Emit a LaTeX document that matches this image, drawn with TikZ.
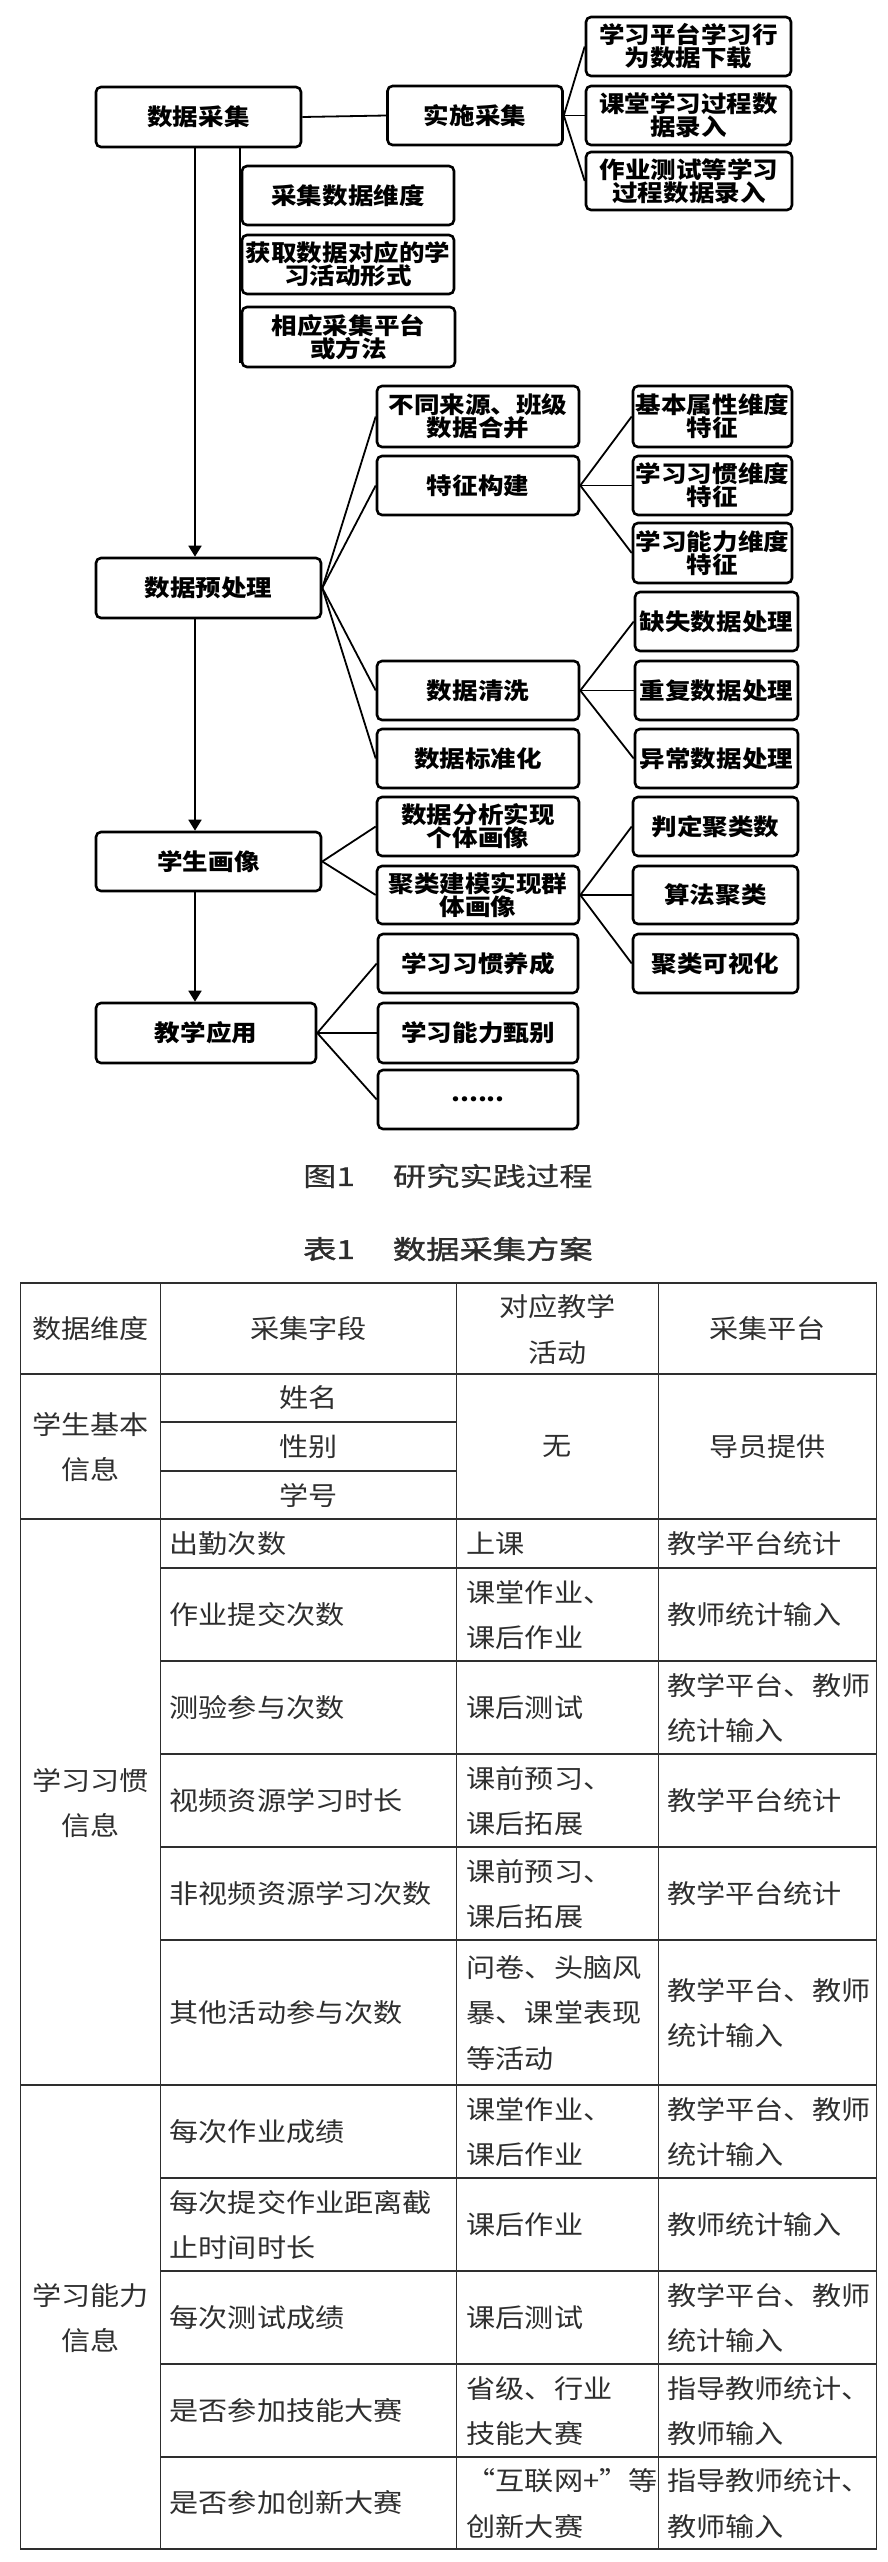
\documentclass[tikz,border=0pt]{standalone}
\usepackage{fontspec}
\usetikzlibrary{arrows.meta}
\newfontfamily\flowfont{Noto Sans CJK SC}[FakeStretch=1.11]
\newfontfamily\tabfont{Noto Sans CJK SC}[FakeStretch=1.12]
\newfontfamily\capfont{Noto Sans CJK SC}[FakeStretch=1.28,FakeBold=0.6]
\newfontfamily\capfontb{Noto Sans CJK SC}[FakeStretch=1.28,FakeBold=1.6]
\definecolor{tcol}{HTML}{2E2E2E}
\tikzset{
  fbox/.style={draw=black, line width=2.6pt, rounded corners=5pt, fill=white,
    inner sep=0pt, align=center, text=black,
    font=\flowfont\bfseries\fontsize{23}{23}\selectfont},
  conn/.style={line width=1.8pt, black},
  arr/.style={conn, -{Triangle[width=13pt,length=11pt]}},
  tline/.style={line width=1.5pt, tcol},
  tc/.style={inner sep=0pt, align=center, text=tcol,
    font=\tabfont\fontsize{26}{45.5}\selectfont},
  tl/.style={inner sep=0pt, align=left, anchor=west, text=tcol,
    font=\tabfont\fontsize{26}{45.5}\selectfont},
  capt/.style={inner sep=0pt, anchor=west, text=tcol,
    font=\capfont\fontsize{26}{26}\selectfont}
}
\begin{document}
\begin{tikzpicture}[x=1pt,y=-1pt]
\useasboundingbox (0,0) rectangle (888,2562);
\fill[white] (0,0) rectangle (888,2562);
\coordinate (ax) at (195,0);
\coordinate (bx) at (240,0);
% ---- flowchart ----
\node[fbox, minimum width=205pt, minimum height=60pt] (cj) at (198.5,117) {数据采集};
\node[fbox, minimum width=175pt, minimum height=59pt] (ss) at (475,115.5) {实施采集};
\node[fbox, minimum width=205pt, minimum height=59pt] (r1) at (688.5,46.5) {学习平台学习行\\为数据下载};
\node[fbox, minimum width=205pt, minimum height=59pt] (r2) at (688.5,115.5) {课堂学习过程数\\据录入};
\node[fbox, minimum width=206pt, minimum height=58pt] (r3) at (689,181) {作业测试等学习\\过程数据录入};
\node[fbox, minimum width=212pt, minimum height=59pt] (c1) at (348,195.5) {采集数据维度};
\node[fbox, minimum width=212pt, minimum height=59pt] (c2) at (348,264.5) {获取数据对应的学\\习活动形式};
\node[fbox, minimum width=213pt, minimum height=60pt] (c3) at (348.5,337) {相应采集平台\\或方法};

\node[fbox, minimum width=225pt, minimum height=60pt] (yc) at (208.5,588) {数据预处理};
\node[fbox, minimum width=202pt, minimum height=61pt] (p1) at (478,416.5) {不同来源、班级\\数据合并};
\node[fbox, minimum width=202pt, minimum height=59pt] (p2) at (478,485.5) {特征构建};
\node[fbox, minimum width=202pt, minimum height=59pt] (p3) at (478,690.5) {数据清洗};
\node[fbox, minimum width=202pt, minimum height=59pt] (p4) at (478,758.5) {数据标准化};
\node[fbox, minimum width=159pt, minimum height=61pt] (f1) at (712.5,416.5) {基本属性维度\\特征};
\node[fbox, minimum width=159pt, minimum height=59pt] (f2) at (712.5,485.5) {学习习惯维度\\特征};
\node[fbox, minimum width=159pt, minimum height=60pt] (f3) at (712.5,553) {学习能力维度\\特征};
\node[fbox, minimum width=163pt, minimum height=59pt] (q1) at (716.5,621.5) {缺失数据处理};
\node[fbox, minimum width=163pt, minimum height=59pt] (q2) at (716.5,690.5) {重复数据处理};
\node[fbox, minimum width=163pt, minimum height=59pt] (q3) at (716.5,758.5) {异常数据处理};

\node[fbox, minimum width=225pt, minimum height=59pt] (hx) at (208.5,861.5) {学生画像};
\node[fbox, minimum width=202pt, minimum height=59pt] (h1) at (478,826.5) {数据分析实现\\个体画像};
\node[fbox, minimum width=202pt, minimum height=58pt] (h2) at (478,895) {聚类建模实现群\\体画像};
\node[fbox, minimum width=165pt, minimum height=59pt] (k1) at (715.5,826.5) {判定聚类数};
\node[fbox, minimum width=165pt, minimum height=58pt] (k2) at (715.5,895) {算法聚类};
\node[fbox, minimum width=165pt, minimum height=59pt] (k3) at (715.5,963.5) {聚类可视化};

\node[fbox, minimum width=220pt, minimum height=60pt] (jx) at (206,1033) {教学应用};
\node[fbox, minimum width=200pt, minimum height=59pt] (a1) at (478,963.5) {学习习惯养成};
\node[fbox, minimum width=200pt, minimum height=60pt] (a2) at (478,1033) {学习能力甄别};
\node[fbox, minimum width=200pt, minimum height=59pt] (a3) at (478,1099.5) {......};

% connectors
\draw[conn] (cj.east) -- (ss.west);
\foreach \t in {r1,r2,r3} \draw[conn] (ss.east) -- (\t.west);
\draw[conn] (cj.south -| bx) -- ([yshift=5pt]c3.south -| bx);
\foreach \t in {p1,p2,p3,p4} \draw[conn] (yc.east) -- (\t.west);
\foreach \t in {f1,f2,f3} \draw[conn] (p2.east) -- (\t.west);
\foreach \t in {q1,q2,q3} \draw[conn] (p3.east) -- (\t.west);
\foreach \t in {h1,h2} \draw[conn] (hx.east) -- (\t.west);
\foreach \t in {k1,k2,k3} \draw[conn] (h2.east) -- (\t.west);
\foreach \t in {a1,a2,a3} \draw[conn] (jx.east) -- (\t.west);
\draw[arr] (cj.south -| ax) -- (yc.north -| ax);
\draw[arr] (yc.south -| ax) -- (hx.north -| ax);
\draw[arr] (hx.south -| ax) -- (jx.north -| ax);

% captions
\node[capt] (cap1) at (303,1176) {图1\hspace{38pt}研究实践过程};
\node[capt, font=\capfontb\fontsize{26}{26}\selectfont] (cap2) at (303,1249) {表1\hspace{38pt}数据采集方案};

% ---- table ----
\draw[tline] (20.5,1283) rectangle (876.5,2549);
\foreach \x in {160.5,456.5,658.5} \draw[tline] (\x,1283) -- (\x,2549);
\foreach \y in {1374,1519,2085} \draw[tline] (20.5,\y) -- (876.5,\y);
\foreach \y in {1422,1471} \draw[tline] (160.5,\y) -- (456.5,\y);
\foreach \y in {1568,1661,1754,1847,1940,2178,2271,2364,2457} \draw[tline] (160.5,\y) -- (876.5,\y);

\node[tc] (th1) at (90.5,1329) {数据维度};
\node[tc] (th2) at (308.5,1329) {采集字段};
\node[tc] (th3) at (557.5,1329.5) {对应教学\\活动};
\node[tc] (th4) at (767.5,1329) {采集平台};

\node[tc] (g1) at (90.5,1447) {学生基本\\信息};
\node[tc] (b1) at (308.5,1398) {姓名};
\node[tc] (b2) at (308.5,1446.5) {性别};
\node[tc] (b3) at (308.5,1495) {学号};
\node[tc] (b4) at (557.5,1446.5) {无};
\node[tc] (b5) at (767.5,1446.5) {导员提供};

\node[tc] (g2) at (90.5,1803) {学习习惯\\信息};
\node[tc] (g3) at (90.5,2318) {学习能力\\信息};

\node[tl] (s1a) at (169.5,1543.5) {出勤次数};
\node[tl] (s1b) at (466.5,1543.5) {上课};
\node[tl] (s1c) at (667,1543.5) {教学平台统计};

\node[tl] (s2a) at (169.5,1614.5) {作业提交次数};
\node[tl] (s2b) at (466.5,1615) {课堂作业、\\课后作业};
\node[tl] (s2c) at (667,1614.5) {教师统计输入};

\node[tl] (s3a) at (169.5,1707.5) {测验参与次数};
\node[tl] (s3b) at (466.5,1707.5) {课后测试};
\node[tl] (s3c) at (667,1708) {教学平台、教师\\统计输入};

\node[tl] (s4a) at (169.5,1800.5) {视频资源学习时长};
\node[tl] (s4b) at (466.5,1801) {课前预习、\\课后拓展};
\node[tl] (s4c) at (667,1800.5) {教学平台统计};

\node[tl] (s5a) at (169.5,1893.5) {非视频资源学习次数};
\node[tl] (s5b) at (466.5,1894) {课前预习、\\课后拓展};
\node[tl] (s5c) at (667,1893.5) {教学平台统计};

\node[tl] (s6a) at (169.5,2012.5) {其他活动参与次数};
\node[tl] (s6b) at (466.5,2013) {问卷、头脑风\\暴、课堂表现\\等活动};
\node[tl] (s6c) at (667,2013) {教学平台、教师\\统计输入};

\node[tl] (s7a) at (169.5,2131.5) {每次作业成绩};
\node[tl] (s7b) at (466.5,2132) {课堂作业、\\课后作业};
\node[tl] (s7c) at (667,2132) {教学平台、教师\\统计输入};

\node[tl] (s8a) at (169.5,2225) {每次提交作业距离截\\止时间时长};
\node[tl] (s8b) at (466.5,2224.5) {课后作业};
\node[tl] (s8c) at (667,2224.5) {教师统计输入};

\node[tl] (s9a) at (169.5,2317.5) {每次测试成绩};
\node[tl] (s9b) at (466.5,2317.5) {课后测试};
\node[tl] (s9c) at (667,2318) {教学平台、教师\\统计输入};

\node[tl] (s10a) at (169.5,2410.5) {是否参加技能大赛};
\node[tl] (s10b) at (466.5,2411) {省级、行业\\技能大赛};
\node[tl] (s10c) at (667,2411) {指导教师统计、\\教师输入};

\node[tl] (s11a) at (169.5,2503) {是否参加创新大赛};
\node[tl] (s11b) at (466.5,2503.5) {“互联网+”等\\创新大赛};
\node[tl] (s11c) at (667,2503.5) {指导教师统计、\\教师输入};
\end{tikzpicture}
\end{document}
